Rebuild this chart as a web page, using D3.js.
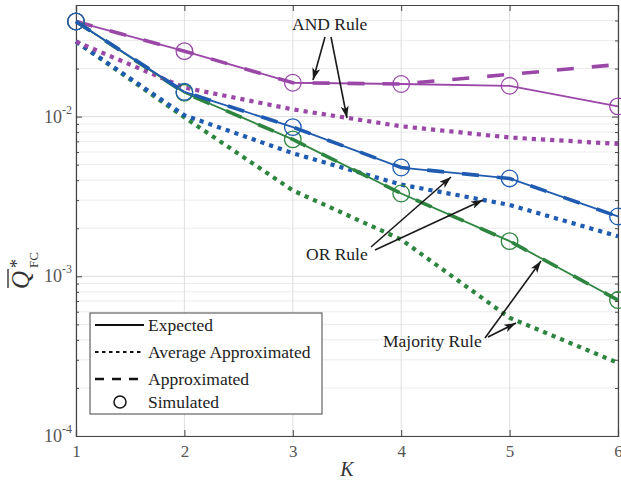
<!DOCTYPE html>
<html>
<head>
<meta charset="utf-8">
<script src="https://cdn.jsdelivr.net/npm/d3@7"></script>
<style>
  html, body { margin: 0; padding: 0; background: #fff; }
  svg { display: block; }
  text { font-family: "Liberation Serif", "DejaVu Serif", serif; }
</style>
</head>
<body>
<svg id="chart" width="621" height="486"></svg>
<script>
// ---------------- data ----------------
const K = [1, 2, 3, 4, 5, 6];
const xTicks = [1, 2, 3, 4, 5, 6];
const yMajorTicks = [1e-4, 1e-3, 1e-2];
const yTickLabels = ["-4", "-3", "-2"];

const andExpected = [0.0394, 0.0257, 0.0163, 0.0160, 0.0156, 0.0116];
const andApprox   = [0.0394, 0.0257, 0.0163, 0.0160, 0.0184, 0.0212];
const andAvg      = [0.0295, 0.0152, 0.0111, 0.0087, 0.0074, 0.00675];
const andSim      = [0.0394, 0.0257, 0.0163, 0.0160, 0.0156, 0.0116];

const orExpected  = [0.0394, 0.0143, 0.0086, 0.0048, 0.0041, 0.00237];
const orApprox    = [0.0394, 0.0143, 0.0086, 0.0048, 0.0041, 0.00237];
const orAvg       = [0.0295, 0.0102, 0.0059, 0.00375, 0.0028, 0.00178];
const orSim       = [0.0394, 0.0143, 0.0086, 0.0048, 0.0041, 0.00237];

const majExpected = [0.0394, 0.0141, 0.0072, 0.0033, 0.00166, 0.00071];
const majApprox   = [0.0394, 0.0141, 0.0072, 0.0033, 0.00166, 0.00071];
const majAvg      = [0.0295, 0.0099, 0.00345, 0.0017, 0.00055, 0.000287];
const majSim      = [0.0394, 0.0141, 0.0072, 0.0033, 0.00166, 0.00071];

const legendLabels = ["Expected", "Average Approximated", "Approximated", "Simulated"];

// ---------------- layout ----------------
const svg = d3.select("#chart");
const L = 76, R = 618, T = 5, B = 436;
const x = d3.scaleLinear().domain([1, 6]).range([L, R]);
const y = d3.scaleLog().domain([1e-4, 0.05]).range([B, T]);

const colPurple = "#9a47a8", colBlue = "#1f5bb0", colGreen = "#2e8540";

// grid
const minorVals = [];
for (let e = -4; e <= -2; e++) {
  for (let m = 2; m <= 9; m++) {
    const v = m * Math.pow(10, e);
    if (v < 0.05) minorVals.push(v);
  }
}
const grid = svg.append("g");
grid.selectAll(".gmin").data(minorVals).join("line")
  .attr("x1", L).attr("x2", R).attr("y1", d => y(d)).attr("y2", d => y(d))
  .attr("stroke", "#ececec").attr("stroke-width", 1);
grid.selectAll(".gmaj").data(yMajorTicks).join("line")
  .attr("x1", L).attr("x2", R).attr("y1", d => y(d)).attr("y2", d => y(d))
  .attr("stroke", "#dedede").attr("stroke-width", 1);
grid.selectAll(".gx").data(xTicks).join("line")
  .attr("x1", d => x(d)).attr("x2", d => x(d)).attr("y1", T).attr("y2", B)
  .attr("stroke", "#dedede").attr("stroke-width", 1);

// axes (inward ticks, box)
const axCol = "#444";
const axB = svg.append("g").attr("transform", `translate(0,${B})`)
  .call(d3.axisBottom(x).tickValues(xTicks).tickSize(-6).tickPadding(9).tickFormat(d3.format("d")));
const axT = svg.append("g").attr("transform", `translate(0,${T})`)
  .call(d3.axisTop(x).tickValues(xTicks).tickSize(-6).tickFormat(""));
const axL = svg.append("g").attr("transform", `translate(${L},0)`)
  .call(d3.axisLeft(y).tickValues(yMajorTicks).tickSize(-6).tickFormat(""));
const axLm = svg.append("g").attr("transform", `translate(${L},0)`)
  .call(d3.axisLeft(y).tickValues(minorVals).tickSize(-3).tickFormat(""));
const axR = svg.append("g").attr("transform", `translate(${R},0)`)
  .call(d3.axisRight(y).tickValues(yMajorTicks).tickSize(-6).tickFormat(""));
const axRm = svg.append("g").attr("transform", `translate(${R},0)`)
  .call(d3.axisRight(y).tickValues(minorVals).tickSize(-3).tickFormat(""));
[axB, axT, axL, axLm, axR, axRm].forEach(a => {
  a.select(".domain").attr("stroke", axCol).attr("stroke-width", 1.2);
  a.selectAll(".tick line").attr("stroke", axCol).attr("stroke-width", 1);
});
[axLm, axRm].forEach(a => a.select(".domain").remove());
axB.selectAll(".tick text").attr("font-size", 17).attr("fill", "#555")
  .attr("font-family", "Liberation Serif");

// y tick labels 10^n
const yl = svg.append("g");
yMajorTicks.forEach((v, i) => {
  const t = yl.append("text").attr("x", 72).attr("y", y(v) + 6)
    .attr("text-anchor", "end").attr("fill", "#555").attr("font-size", 18);
  t.append("tspan").text("10");
  t.append("tspan").attr("dy", -9).attr("font-size", 12).text(yTickLabels[i]);
});

// axis labels
svg.append("text").attr("x", 347).attr("y", 476).attr("text-anchor", "middle")
  .attr("font-size", 20).attr("font-style", "italic").attr("fill", "#333").text("K");
const yLab = svg.append("g").attr("transform", "translate(29,289) rotate(-90)");
yLab.append("text").attr("x", 0).attr("y", 0).attr("font-size", 25)
  .attr("font-style", "italic").attr("fill", "#333").text("Q");
yLab.append("line").attr("x1", 1).attr("x2", 20).attr("y1", -21).attr("y2", -21)
  .attr("stroke", "#333").attr("stroke-width", 1.4);
yLab.append("text").attr("x", 21).attr("y", -6).attr("font-size", 18)
  .attr("fill", "#333").text("*");
yLab.append("text").attr("x", 21).attr("y", 9).attr("font-size", 13)
  .attr("fill", "#333").text("FC");

// ---------------- series ----------------
const line = d3.line().x((d, i) => x(K[i])).y(d => y(d));
const plot = svg.append("g");
function series(vals, color, kind) {
  const p = plot.append("path").attr("d", line(vals)).attr("fill", "none")
    .attr("stroke", color);
  if (kind === "solid") p.attr("stroke-width", 1.8);
  if (kind === "dash") p.attr("stroke-width", 3.6).attr("stroke-dasharray", "17,18");
  if (kind === "dot") p.attr("stroke-width", 4.2).attr("stroke-dasharray", "4.2,5");
}
series(majAvg, colGreen, "dot");
series(orAvg, colBlue, "dot");
series(andAvg, colPurple, "dot");
series(andExpected, colPurple, "solid");
series(andApprox, colPurple, "dash");
series(majExpected, colGreen, "solid");
series(majApprox, colGreen, "dash");
series(orExpected, colBlue, "solid");
series(orApprox, colBlue, "dash");

function circles(vals, color) {
  plot.append("g").selectAll("circle").data(vals).join("circle")
    .attr("cx", (d, i) => x(K[i])).attr("cy", d => y(d)).attr("r", 8.3)
    .attr("fill", "none").attr("stroke", color).attr("stroke-width", 1.3);
}
circles(andSim, colPurple);
circles(majSim, colGreen);
circles(orSim, colBlue);

// ---------------- annotations ----------------
const defs = svg.append("defs");
defs.append("marker").attr("id", "arr").attr("viewBox", "0 0 12 8")
  .attr("refX", 12).attr("refY", 4).attr("markerWidth", 12).attr("markerHeight", 8)
  .attr("markerUnits", "userSpaceOnUse").attr("orient", "auto")
  .append("path").attr("d", "M0,0 L12,4 L0,8 L3,4 Z").attr("fill", "#1a1a1a");

const ann = svg.append("g");
function arrow(x1, y1, x2, y2) {
  ann.append("line").attr("x1", x1).attr("y1", y1).attr("x2", x2).attr("y2", y2)
    .attr("stroke", "#1a1a1a").attr("stroke-width", 1.6).attr("marker-end", "url(#arr)");
}
ann.append("text").attr("x", 292).attr("y", 30).attr("font-size", 17.5).attr("fill", "#222").text("AND Rule");
arrow(325, 37, 313, 80);
arrow(331, 37, 347, 118);
ann.append("text").attr("x", 306).attr("y", 260).attr("font-size", 17.5).attr("fill", "#222").text("OR Rule");
arrow(371, 247, 451, 177);
arrow(375, 250, 483, 200);
ann.append("text").attr("x", 383).attr("y", 347).attr("font-size", 17.5).attr("fill", "#222").text("Majority Rule");
arrow(485, 338, 541, 261);
arrow(488, 337, 516, 323);

// ---------------- legend ----------------
const lg = svg.append("g");
lg.append("rect").attr("x", 90).attr("y", 313).attr("width", 232).attr("height", 101)
  .attr("fill", "#fff").attr("stroke", "#444").attr("stroke-width", 1);
const ly = [325, 352, 379, 402];
const kinds = ["solid", "dot", "dash", "circle"];
kinds.forEach((k, i) => {
  if (k === "circle") {
    lg.append("circle").attr("cx", 120).attr("cy", ly[i]).attr("r", 6)
      .attr("fill", "none").attr("stroke", "#111").attr("stroke-width", 1.5);
  } else {
    const l = lg.append("line").attr("x1", 95).attr("x2", 144).attr("y1", ly[i]).attr("y2", ly[i])
      .attr("stroke", "#111");
    if (k === "solid") l.attr("stroke-width", 2);
    if (k === "dot") l.attr("stroke-width", 2).attr("stroke-dasharray", "3.5,3.5");
    if (k === "dash") l.attr("stroke-width", 2.4).attr("stroke-dasharray", "9,8");
  }
  lg.append("text").attr("x", 148).attr("y", ly[i] + 5.5).attr("font-size", 17.5)
    .attr("fill", "#222").text(legendLabels[i]);
});
</script>
</body>
</html>
